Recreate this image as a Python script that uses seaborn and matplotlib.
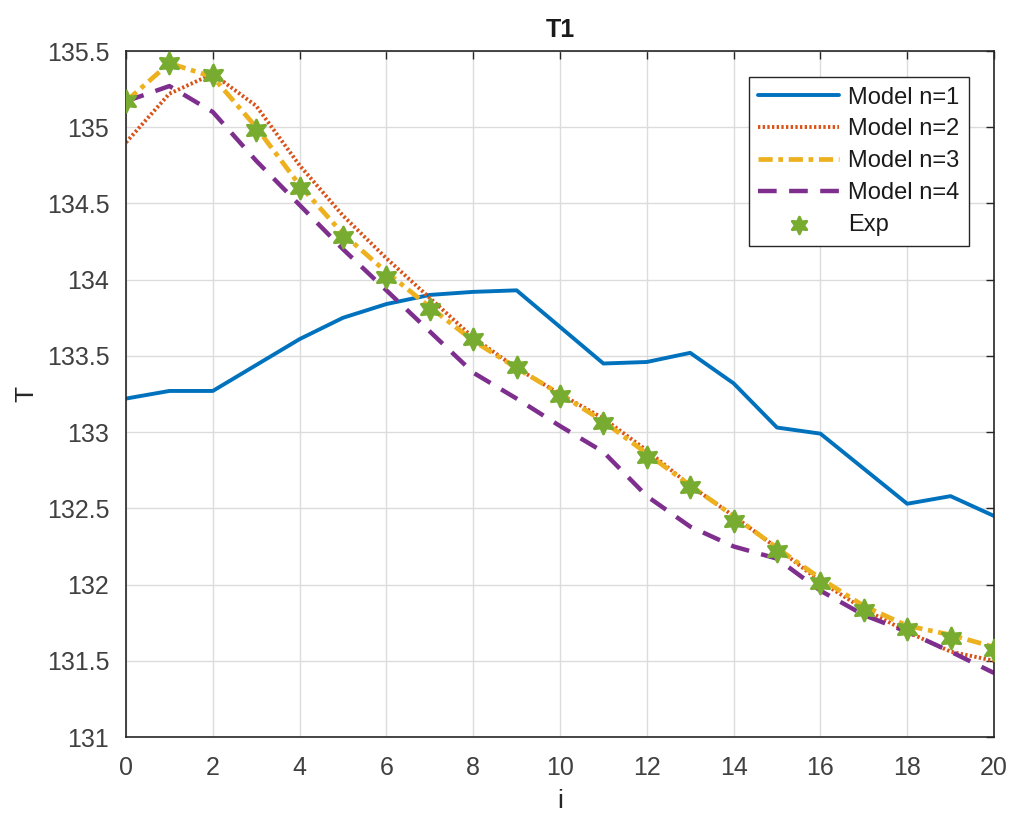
import numpy as np
import pandas as pd
import matplotlib
matplotlib.use("Agg")
import matplotlib.pyplot as plt
import seaborn as sns

# ---- data ----
i_vals = list(range(21))
model1 = [133.22, 133.27, 133.27, 133.44, 133.61, 133.75, 133.84, 133.90, 133.92, 133.93,
          133.69, 133.45, 133.46, 133.52, 133.32, 133.03, 132.99, 132.76, 132.53, 132.58, 132.45]
model2 = [134.90, 135.22, 135.35, 135.14, 134.75, 134.42, 134.14, 133.88, 133.62, 133.42,
          133.25, 133.09, 132.88, 132.65, 132.45, 132.24, 132.02, 131.84, 131.69, 131.56, 131.50]
model3 = [135.17, 135.42, 135.33, 135.00, 134.62, 134.30, 134.05, 133.82, 133.60, 133.42,
          133.25, 133.07, 132.86, 132.65, 132.45, 132.24, 132.04, 131.86, 131.73, 131.67, 131.59]
model4 = [135.17, 135.27, 135.10, 134.78, 134.49, 134.20, 133.93, 133.66, 133.39, 133.22,
          133.04, 132.87, 132.58, 132.38, 132.25, 132.17, 131.96, 131.80, 131.69, 131.56, 131.42]
exp_vals = [135.17, 135.42, 135.34, 134.98, 134.60, 134.28, 134.02, 133.81, 133.61, 133.43,
            133.24, 133.06, 132.84, 132.64, 132.42, 132.22, 132.01, 131.83, 131.71, 131.65, 131.57]

labels = ["Model n=1", "Model n=2", "Model n=3", "Model n=4", "Exp"]
colors = ["#0072BD", "#D95319", "#EDB120", "#7E2F8E", "#77AC30"]
xticks = list(range(0, 21, 2))
yticks = [131, 131.5, 132, 132.5, 133, 133.5, 134, 134.5, 135, 135.5]
ytick_labels = ["131", "131.5", "132", "132.5", "133", "133.5", "134", "134.5", "135", "135.5"]

sns.set_theme(style="white")
plt.rcParams['font.family'] = ['Liberation Sans', 'DejaVu Sans']

fig = plt.figure(figsize=(10.16, 8.18), dpi=100)
ax = fig.add_axes([126/1016, (818-737)/818, (994-126)/1016, (737-51)/818])

df = pd.DataFrame({"i": i_vals, labels[0]: model1, labels[1]: model2,
                   labels[2]: model3, labels[3]: model4, labels[4]: exp_vals})

lw = 2.8
sns.lineplot(data=df, x="i", y=labels[0], ax=ax, color=colors[0], lw=lw, label=labels[0])
sns.lineplot(data=df, x="i", y=labels[1], ax=ax, color=colors[1], lw=lw, label=labels[1],
             linestyle=(0, (0.6, 0.6)))
sns.lineplot(data=df, x="i", y=labels[2], ax=ax, color=colors[2], lw=lw + 0.6, label=labels[2],
             linestyle=(0, (3.0, 1.2, 1.0, 1.2)))
sns.lineplot(data=df, x="i", y=labels[3], ax=ax, color=colors[3], lw=lw + 0.4, label=labels[3],
             linestyle=(0, (4.2, 2.8)))
sns.scatterplot(data=df, x="i", y=labels[4], ax=ax, color=colors[4], marker=(6, 1, 0),
                s=230, edgecolor=colors[4], linewidth=2.0, label=labels[4], zorder=5)

ax.set_xlim(0, 20)
ax.set_ylim(131, 135.5)
ax.set_xticks(xticks)
ax.set_yticks(yticks)
ax.set_xticklabels([str(x) for x in xticks])
ax.set_yticklabels(ytick_labels)
ax.grid(True, color="#dcdcdc", linewidth=1.0)
ax.set_axisbelow(True)
ax.tick_params(direction="in", length=6, width=1, colors="#262626", labelsize=18,
               top=True, right=True, labelcolor="#404040")
ax.tick_params(axis="x", pad=14)
ax.tick_params(axis="y", pad=12)
for sp in ax.spines.values():
    sp.set_color("#262626")
    sp.set_linewidth(1.2)

ax.set_title("T1", fontsize=18, fontweight="bold", color="#1a1a1a", pad=10)
ax.set_xlabel("i", fontsize=19, color="#262626", labelpad=6)
ax.set_ylabel("T", fontsize=19, color="#262626", labelpad=6)

leg = ax.legend(loc="upper right", bbox_to_anchor=(0.971, 0.962), borderaxespad=0,
                fontsize=17, frameon=True, fancybox=False, edgecolor="#262626", framealpha=1,
                handlelength=3.4, handletextpad=0.4, borderpad=0.4, labelspacing=0.42,
                markerscale=0.8)
leg.get_frame().set_linewidth(1.0)
for t in leg.get_texts():
    t.set_color("#1a1a1a")

fig.savefig("out.png", dpi=100, facecolor="white")
